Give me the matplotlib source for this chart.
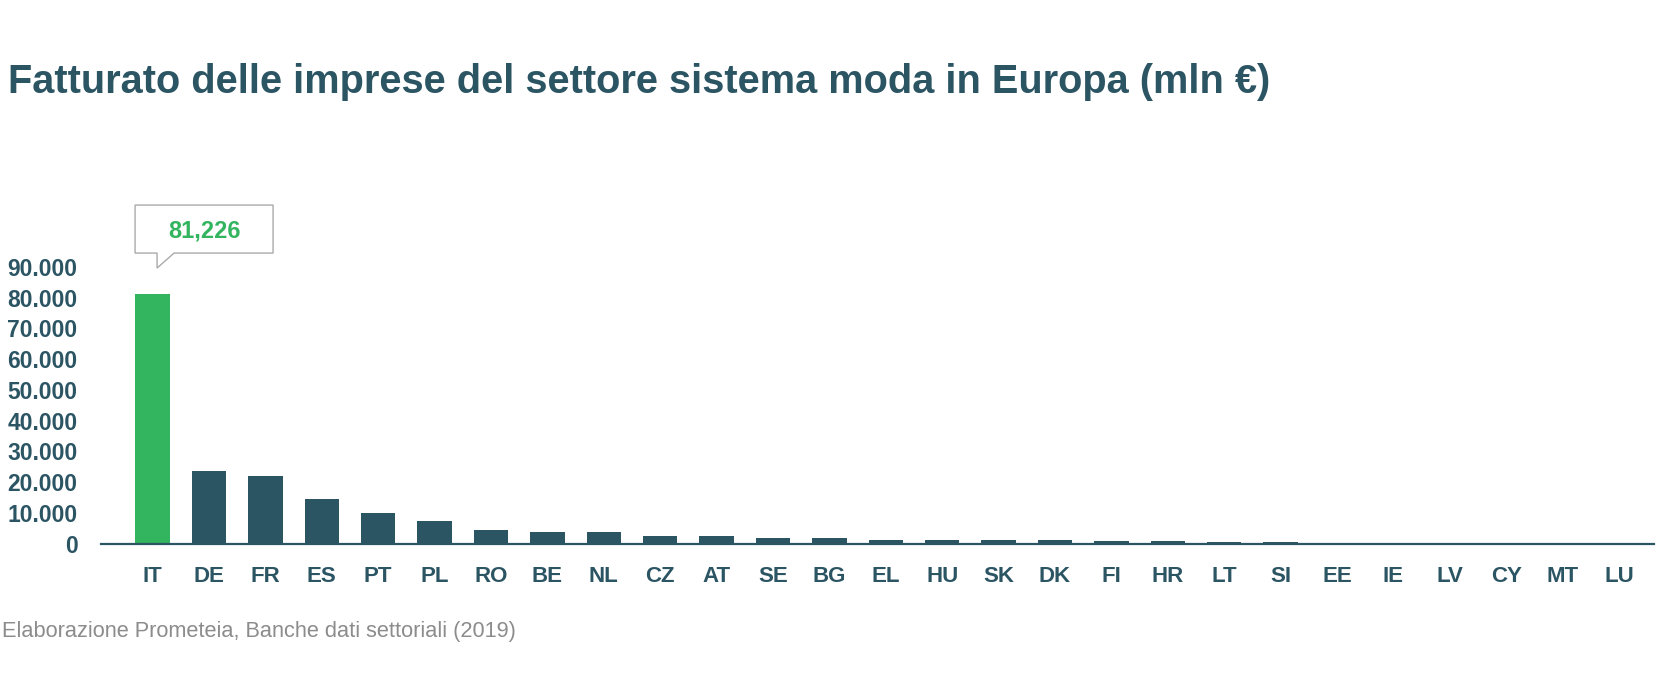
import matplotlib
matplotlib.use("Agg")
import matplotlib.pyplot as plt
from matplotlib.patches import Polygon
from matplotlib.transforms import Affine2D
from matplotlib.ticker import FuncFormatter

plt.rcParams['font.family'] = ['Liberation Sans', 'DejaVu Sans']

countries = ["IT", "DE", "FR", "ES", "PT", "PL", "RO", "BE", "NL", "CZ", "AT", "SE", "BG",
             "EL", "HU", "SK", "DK", "FI", "HR", "LT", "SI", "EE", "IE", "LV", "CY", "MT", "LU"]
turnover = [81226, 23700, 21900, 14600, 9800, 7250, 4250, 3700, 3650, 2400, 2400, 1950, 1850,
            1300, 1000, 1000, 1000, 750, 750, 400, 350, 150, 120, 100, 60, 40, 30]
y_ticks = [0, 10000, 20000, 30000, 40000, 50000, 60000, 70000, 80000, 90000]
highlight_label = "81,226"
title = "Fatturato delle imprese del settore sistema moda in Europa (mln €)"
source = "Elaborazione Prometeia, Banche dati settoriali (2019)"

DARK = "#2c5564"
GREEN = "#33b45e"

fig = plt.figure(figsize=(16.65, 6.83), dpi=100)
ax = fig.add_axes([0.0607, 0.2042, 0.9327, 0.4052])

x = list(range(len(countries)))
colors = [GREEN if i == 0 else DARK for i in x]
ax.bar(x, turnover, width=0.61, color=colors, zorder=2)

ax.set_xlim(-0.913, len(countries) - 1 + 0.62)
ax.set_ylim(0, 90000)
ax.set_yticks(y_ticks)
ax.yaxis.set_major_formatter(FuncFormatter(lambda v, p: f"{int(v):,}".replace(",", ".")))
ax.set_xticks(x)
ax.set_xticklabels(countries)

for s in ["top", "right", "left"]:
    ax.spines[s].set_visible(False)
ax.spines["bottom"].set_color(DARK)
ax.spines["bottom"].set_linewidth(1.6)
ax.tick_params(axis="both", length=0, colors=DARK)
ax.tick_params(axis="y", pad=17, labelsize=16.5)
ax.tick_params(axis="x", pad=16, labelsize=16)
for lab in ax.get_xticklabels() + ax.get_yticklabels():
    lab.set_fontweight("bold")
    lab.set_color(DARK)

# callout for the highlighted bar
px, py = ax.transData.transform((0, turnover[0]))
tr = Affine2D().translate(px, py)
verts = [(-17.5, 40.7), (4.5, 40.7), (4.5, 25.7), (21.5, 40.7), (120.5, 40.7),
         (120.5, 88.7), (-17.5, 88.7)]
poly = Polygon(verts, closed=True, facecolor="white", edgecolor="#aaaaaa",
               linewidth=1.0, transform=tr, clip_on=False, zorder=5)
fig.add_artist(poly)
fig.text((px + 51.5) / fig.bbox.width, (py + 62.7) / fig.bbox.height, highlight_label,
         ha="center", va="center", color=GREEN, fontsize=17, fontweight="bold", zorder=6)

fig.text(8.5 / 1665, 1 - 82 / 683, title, ha="left", va="center", color=DARK,
         fontsize=28.6, fontweight="bold")
fig.text(2 / 1665, 1 - 632 / 683, source, ha="left", va="center", color="#8c8c8c",
         fontsize=15.7)

fig.savefig("out.png", dpi=100)
